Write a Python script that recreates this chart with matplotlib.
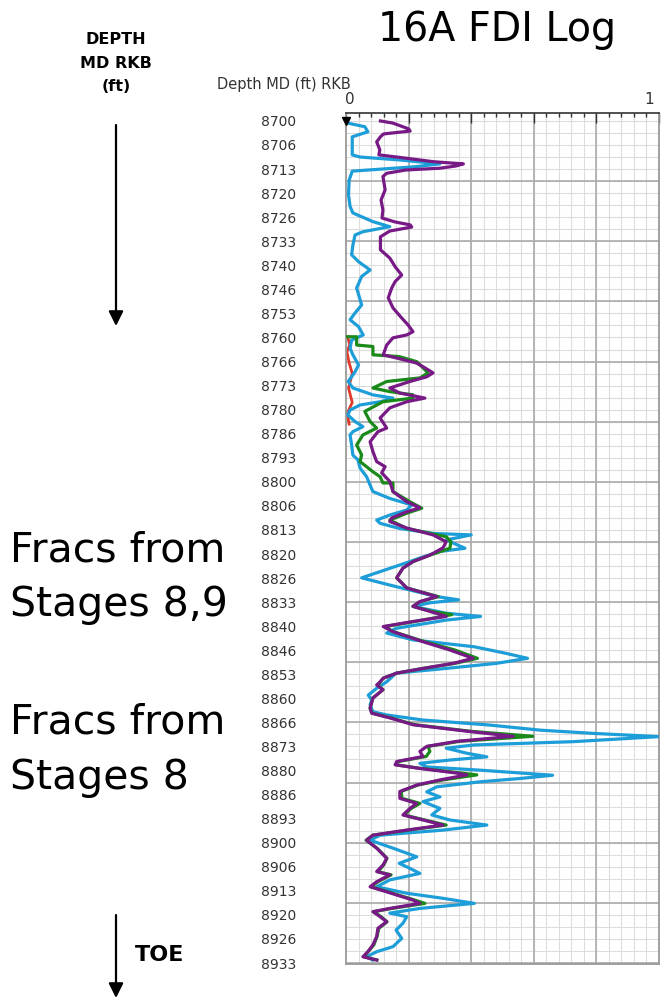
import matplotlib
matplotlib.use("Agg")
import matplotlib.pyplot as plt
import numpy as np

plt.rcParams['font.family'] = ['DejaVu Sans']

# depth labels on the left of the track (ft, MD RKB)
depth_labels = ['8700', '8706', '8713', '8720', '8726', '8733', '8740', '8746', '8753',
                '8760', '8766', '8773', '8780', '8786', '8793', '8800', '8806', '8813',
                '8820', '8826', '8833', '8840', '8846', '8853', '8860', '8866', '8873',
                '8880', '8886', '8893', '8900', '8906', '8913', '8920', '8926', '8933']

# cyan trace
cyan_depth = [8700.5, 8701.6, 8703.0, 8704.4, 8709.4, 8710.0, 8710.8, 8711.9, 8712.7, 8713.3,
              8713.9, 8716.4, 8720.5, 8723.7, 8725.5, 8727.9, 8729.3, 8730.7, 8731.6, 8734.4,
              8737.1, 8739.0, 8741.3, 8743.1, 8746.3, 8751.0, 8753.2, 8755.1, 8757.0, 8759.3,
              8760.7, 8763.0, 8764.8, 8767.6, 8769.5, 8772.2, 8774.0, 8775.9, 8776.8, 8777.8,
              8778.7, 8780.1, 8781.5, 8783.3, 8784.7, 8786.1, 8787.0, 8789.8, 8792.6, 8793.9,
              8796.2, 8798.6, 8800.9, 8802.7, 8804.6, 8806.4, 8807.8, 8809.2, 8810.6, 8811.5,
              8812.9, 8814.3, 8814.7, 8816.1, 8818.4, 8819.3, 8821.1, 8822.1, 8824.4, 8826.6,
              8828.6, 8831.8, 8832.7, 8833.5, 8834.5, 8836.4, 8837.3, 8838.3, 8840.6, 8841.9,
              8843.8, 8845.7, 8847.5, 8848.9, 8850.3, 8851.7, 8853.0, 8855.4, 8857.2, 8859.1,
              8860.4, 8861.8, 8863.7, 8864.6, 8866.0, 8867.4, 8868.8, 8869.7, 8870.6, 8872.0,
              8872.9, 8873.8, 8875.2, 8876.2, 8877.1, 8878.0, 8879.0, 8879.9, 8880.8, 8881.3,
              8882.2, 8883.1, 8884.5, 8885.9, 8887.3, 8888.6, 8890.5, 8892.3, 8893.7, 8895.1,
              8896.5, 8897.9, 8899.3, 8901.5, 8903.9, 8905.7, 8907.1, 8908.5, 8910.3, 8912.2,
              8914.0, 8915.4, 8916.8, 8918.2, 8919.5, 8920.5, 8922.3, 8924.2, 8926.5, 8928.8,
              8930.2, 8931.6, 8932.5]
cyan_val = [0.00, 0.06, 0.07, 0.02, 0.02, 0.045, 0.17, 0.30, 0.22, 0.12,
            0.02, 0.01, 0.008, 0.013, 0.022, 0.086, 0.14, 0.054, 0.029, 0.022,
            0.018, 0.04, 0.077, 0.05, 0.034, 0.05, 0.029, 0.013, 0.04, 0.055,
            0.018, 0.013, 0.022, 0.04, 0.029, 0.007, 0.022, 0.086, 0.15, 0.11,
            0.045, 0.013, 0.006, 0.029, 0.054, 0.022, 0.013, 0.018, 0.022, 0.038,
            0.045, 0.066, 0.077, 0.086, 0.14, 0.21, 0.194, 0.14, 0.098, 0.109,
            0.17, 0.28, 0.40, 0.32, 0.38, 0.30, 0.236, 0.204, 0.125, 0.05,
            0.14, 0.29, 0.36, 0.27, 0.214, 0.32, 0.43, 0.32, 0.16, 0.13,
            0.214, 0.41, 0.51, 0.58, 0.48, 0.32, 0.16, 0.13, 0.098, 0.071,
            0.082, 0.077, 0.086, 0.13, 0.246, 0.46, 0.62, 0.79, 1.0, 0.725,
            0.41, 0.32, 0.386, 0.45, 0.33, 0.236, 0.258, 0.43, 0.58, 0.66,
            0.556, 0.43, 0.29, 0.258, 0.30, 0.246, 0.30, 0.274, 0.332, 0.45,
            0.31, 0.109, 0.077, 0.15, 0.226, 0.17, 0.204, 0.236, 0.14, 0.098,
            0.194, 0.31, 0.41, 0.236, 0.14, 0.194, 0.182, 0.16, 0.178, 0.15,
            0.098, 0.066, 0.086]

# purple trace
purple_depth = [8700.0, 8700.6, 8702.2, 8702.8, 8703.6, 8704.4, 8705.8, 8708.0, 8709.4, 8710.3,
                8711.3, 8711.9, 8712.5, 8713.1, 8713.6, 8714.5, 8715.4, 8719.1, 8721.9, 8724.7,
                8726.9, 8728.0, 8728.8, 8729.4, 8730.5, 8732.1, 8735.7, 8738.0, 8740.4, 8742.7,
                8744.5, 8746.3, 8749.0, 8751.8, 8754.6, 8756.5, 8758.4, 8759.3, 8760.1, 8762.1,
                8764.8, 8765.7, 8767.1, 8768.4, 8769.8, 8770.9, 8772.2, 8774.0, 8775.4, 8776.8,
                8777.8, 8779.5, 8782.3, 8785.1, 8786.1, 8788.9, 8791.6, 8794.4, 8795.8, 8797.5,
                8799.9, 8802.7, 8805.5, 8807.2, 8808.3, 8810.0, 8811.0, 8812.8, 8814.7, 8816.6,
                8818.3, 8820.3, 8822.1, 8823.9, 8826.6, 8829.4, 8831.8, 8833.2, 8834.5, 8835.9,
                8837.3, 8838.7, 8840.1, 8841.5, 8844.3, 8846.6, 8848.9, 8850.3, 8851.7, 8853.0,
                8854.4, 8855.4, 8856.3, 8857.6, 8859.9, 8862.7, 8864.1, 8865.4, 8867.3, 8869.1,
                8870.5, 8871.9, 8873.3, 8874.7, 8876.1, 8877.5, 8878.4, 8879.3, 8880.7, 8881.2,
                8882.6, 8884.0, 8885.8, 8887.7, 8889.1, 8890.5, 8892.3, 8893.7, 8895.1, 8896.5,
                8897.9, 8899.3, 8901.5, 8904.3, 8906.1, 8908.0, 8908.9, 8910.8, 8912.2, 8913.6,
                8915.9, 8916.8, 8918.2, 8919.1, 8920.5, 8921.9, 8923.7, 8926.0, 8928.3, 8930.2,
                8931.6, 8932.5]
purple_val = [0.11, 0.15, 0.20, 0.205, 0.12, 0.11, 0.098, 0.108, 0.105, 0.19,
              0.28, 0.375, 0.35, 0.30, 0.19, 0.13, 0.118, 0.125, 0.112, 0.118,
              0.115, 0.157, 0.205, 0.21, 0.14, 0.11, 0.11, 0.14, 0.157, 0.178,
              0.157, 0.146, 0.135, 0.15, 0.178, 0.198, 0.214, 0.194, 0.15, 0.13,
              0.119, 0.162, 0.226, 0.252, 0.278, 0.258, 0.204, 0.14, 0.172, 0.252,
              0.194, 0.14, 0.109, 0.13, 0.102, 0.077, 0.086, 0.098, 0.125, 0.114,
              0.14, 0.15, 0.194, 0.236, 0.194, 0.146, 0.14, 0.194, 0.278, 0.32,
              0.31, 0.268, 0.214, 0.182, 0.162, 0.194, 0.29, 0.236, 0.214, 0.268,
              0.32, 0.214, 0.119, 0.15, 0.246, 0.332, 0.406, 0.342, 0.246, 0.162,
              0.119, 0.109, 0.098, 0.118, 0.086, 0.077, 0.082, 0.14, 0.214, 0.386,
              0.534, 0.354, 0.258, 0.236, 0.246, 0.162, 0.157, 0.226, 0.354, 0.386,
              0.30, 0.226, 0.172, 0.172, 0.226, 0.204, 0.182, 0.246, 0.31, 0.194,
              0.086, 0.066, 0.098, 0.13, 0.119, 0.098, 0.14, 0.098, 0.077, 0.13,
              0.214, 0.236, 0.14, 0.086, 0.109, 0.13, 0.102, 0.098, 0.086, 0.07,
              0.054, 0.098]

# green trace
green_depth = [8759.8, 8759.8, 8762.1, 8762.5, 8764.8, 8765.3, 8766.7, 8768.4, 8769.8, 8771.2,
               8772.2, 8774.0, 8775.0, 8775.9, 8776.8, 8777.8, 8780.5, 8783.3, 8785.1, 8787.0,
               8789.8, 8792.5, 8794.4, 8797.2, 8798.6, 8800.3, 8800.3, 8802.7, 8805.5, 8807.3,
               8808.7, 8810.6, 8812.9, 8815.2, 8816.6, 8818.4, 8820.3, 8822.1, 8823.9, 8826.6,
               8829.4, 8831.8, 8833.2, 8834.5, 8835.9, 8836.8, 8838.7, 8840.1, 8841.5, 8844.3,
               8846.6, 8848.9, 8850.3, 8851.7, 8853.0, 8854.4, 8856.3, 8857.6, 8859.9, 8862.7,
               8864.1, 8865.4, 8867.3, 8869.1, 8870.5, 8871.9, 8873.3, 8874.7, 8876.1, 8877.5,
               8878.4, 8879.3, 8880.7, 8881.2, 8882.6, 8884.0, 8885.8, 8887.7, 8889.1, 8890.5,
               8892.3, 8893.7, 8895.1, 8896.5, 8897.9, 8899.3, 8901.5, 8904.3, 8906.1, 8908.0,
               8908.9, 8910.8, 8912.2, 8913.6, 8915.9, 8916.8, 8918.2, 8919.1, 8920.5, 8921.9,
               8923.7, 8926.0, 8928.3, 8930.2, 8931.6, 8932.5]
green_val = [0.003, 0.034, 0.034, 0.086, 0.086, 0.17, 0.226, 0.246, 0.262, 0.236,
             0.13, 0.086, 0.14, 0.214, 0.214, 0.118, 0.06, 0.077, 0.098, 0.054,
             0.034, 0.05, 0.045, 0.086, 0.109, 0.118, 0.15, 0.15, 0.204, 0.242,
             0.194, 0.14, 0.194, 0.32, 0.335, 0.332, 0.268, 0.214, 0.182, 0.162,
             0.194, 0.295, 0.236, 0.214, 0.275, 0.338, 0.22, 0.125, 0.15, 0.252,
             0.348, 0.42, 0.348, 0.246, 0.162, 0.119, 0.102, 0.118, 0.086, 0.077,
             0.083, 0.143, 0.22, 0.396, 0.597, 0.364, 0.262, 0.268, 0.256, 0.166,
             0.16, 0.23, 0.37, 0.418, 0.31, 0.23, 0.176, 0.179, 0.236, 0.208,
             0.185, 0.252, 0.32, 0.198, 0.086, 0.064, 0.099, 0.131, 0.121, 0.102,
             0.144, 0.102, 0.08, 0.134, 0.22, 0.252, 0.147, 0.089, 0.112, 0.131,
             0.105, 0.099, 0.089, 0.07, 0.058, 0.099]

# red trace (mostly hidden near zero)
red_depth = [8759.8, 8762.0, 8764.0, 8767.0, 8770.0, 8774.0, 8778.0, 8781.0, 8784.0]
red_val = [0.005, 0.012, 0.003, 0.01, 0.02, 0.008, 0.02, 0.004, 0.01]

W, H = 667, 1001
fig = plt.figure(figsize=(W / 100, H / 100), dpi=100)
ax = fig.add_axes([346 / W, 37 / H, 313 / W, 851 / H])

top_d, bot_d = 8697.8, 8933.6
ax.set_xlim(0, 1)
ax.set_ylim(bot_d, top_d)

# grid
for x in np.arange(0.04, 1.0, 0.04):
    ax.axvline(x, color='#dcdcdc', lw=0.8, zorder=0)
for y in np.arange(8700, bot_d, 10 / 3):
    ax.axhline(y, color='#dcdcdc', lw=0.8, zorder=0)
for x in np.arange(0.2, 1.0, 0.2):
    ax.axvline(x, color='#ababab', lw=1.2, zorder=0.5)
for y in np.arange(8700 + 50 / 3, bot_d, 50 / 3):
    ax.axhline(y, color='#ababab', lw=1.2, zorder=0.5)

ax.plot(red_val, red_depth, color='#e03a2a', lw=2, zorder=2)
ax.plot(cyan_val, cyan_depth, color='#1e9ed8', lw=2.3, zorder=3)
ax.plot(green_val, green_depth, color='#1a8a1a', lw=2.3, zorder=4)
ax.plot(purple_val, purple_depth, color='#781a86', lw=2.3, zorder=5)

# pointer at the top of the track
ax.plot([0], [purple_depth[0]], marker='v', color='black', ms=6, clip_on=False, zorder=6)

# top scale ticks
ax.xaxis.tick_top()
ax.set_xticks(np.arange(0, 1.01, 0.2))
ax.set_xticks(np.arange(0, 1.01, 0.04), minor=True)
ax.set_xticklabels([])
ax.tick_params(axis='x', which='major', direction='in', length=7, width=1, color='#333333')
ax.tick_params(axis='x', which='minor', direction='in', length=3, width=1, color='#333333')

# depth labels
label_pos = 8700 + np.arange(len(depth_labels)) * 20 / 3
ax.set_yticks(label_pos)
ax.set_yticklabels(depth_labels)
ax.tick_params(axis='y', length=0, pad=36, labelsize=10, labelcolor='#333333')

for s in ['left', 'right', 'bottom']:
    ax.spines[s].set_color('#9a9a9a')
    ax.spines[s].set_linewidth(1.3)
ax.spines['top'].set_color('#333333')
ax.spines['top'].set_linewidth(1.2)

fig.text(350 / W, 1 - 100 / H, '0', ha='center', va='center', fontsize=11, color='#333333')
fig.text(649 / W, 1 - 100 / H, '1', ha='center', va='center', fontsize=11, color='#333333')
fig.text(284 / W, 1 - 84 / H, 'Depth MD (ft) RKB', ha='center', va='center',
         fontsize=10.5, color='#333333')

fig.text(497 / W, 1 - 30 / H, '16A FDI Log', ha='center', va='center', fontsize=28.5)
fig.text(116 / W, 1 - 63 / H, 'DEPTH\nMD RKB\n(ft)', ha='center', va='center',
         fontsize=11.5, fontweight='bold', linespacing=1.7)
fig.text(160 / W, 1 - 955 / H, 'TOE', ha='center', va='center', fontsize=16, fontweight='bold')

fig.text(10 / W, 1 - 550 / H, 'Fracs from', ha='left', va='center', fontsize=29.5)
fig.text(10 / W, 1 - 605 / H, 'Stages 8,9', ha='left', va='center', fontsize=29.5)
fig.text(10 / W, 1 - 722 / H, 'Fracs from', ha='left', va='center', fontsize=29.5)
fig.text(10 / W, 1 - 778 / H, 'Stages 8', ha='left', va='center', fontsize=29.5)

arrow = dict(arrowstyle='-|>', color='black', lw=1.6, mutation_scale=22, shrinkA=0, shrinkB=0)
fig.add_artist(plt.Annotation('', xy=(116, H - 326), xytext=(116, H - 125),
                              xycoords='figure pixels', textcoords='figure pixels', arrowprops=arrow))
fig.add_artist(plt.Annotation('', xy=(116, H - 998), xytext=(116, H - 915),
                              xycoords='figure pixels', textcoords='figure pixels', arrowprops=arrow))

fig.savefig('out.png', dpi=100)
